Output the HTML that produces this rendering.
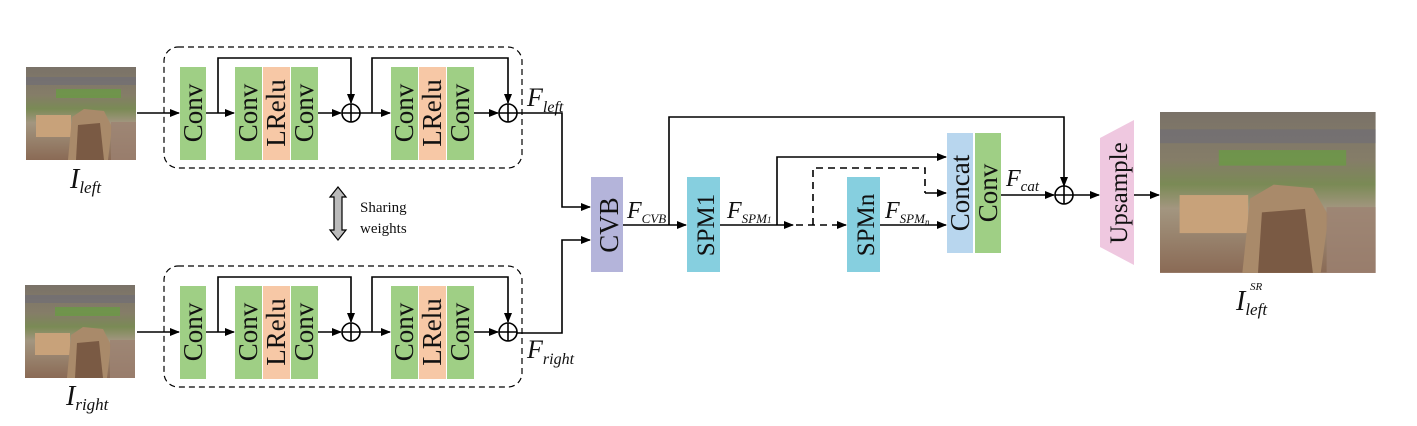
<!DOCTYPE html>
<html><head><meta charset="utf-8"><style>
html,body{margin:0;padding:0;background:#fff;}
svg{display:block;}
text{font-family:"Liberation Serif",serif;fill:#111;}
</style></head><body>
<svg width="1417" height="426" viewBox="0 0 1417 426" xmlns="http://www.w3.org/2000/svg">
<defs>
<marker id="ah" markerWidth="10" markerHeight="8" refX="9" refY="4" orient="auto" markerUnits="userSpaceOnUse">
<path d="M0,0 L10,4 L0,8 z" fill="#000"/></marker>
<linearGradient id="sky" x1="0" y1="0" x2="0" y2="1">
<stop offset="0" stop-color="#7a7268"/><stop offset="0.3" stop-color="#857d68"/><stop offset="0.45" stop-color="#7a8a55"/><stop offset="0.6" stop-color="#a39680"/><stop offset="1" stop-color="#8a6a55"/></linearGradient>
<g id="city">
<rect x="0" y="0" width="110" height="93" fill="url(#sky)"/>
<rect x="0" y="10" width="110" height="8" fill="#6a6a7a" opacity="0.5"/>
<rect x="30" y="22" width="65" height="9" fill="#6a9a45" opacity="0.8"/>
<rect x="10" y="48" width="35" height="22" fill="#c8a27a"/>
<polygon points="42,93 46,50 58,42 78,44 86,60 82,93" fill="#a98a6a"/>
<polygon points="50,93 52,58 74,56 78,93" fill="#7a5a44"/>
<rect x="85" y="55" width="25" height="38" fill="#9c8272" opacity="0.8"/>
</g>
</defs>

<use href="#city" x="26" y="67"/>
<use href="#city" x="25" y="285"/>
<g transform="translate(1160,112) scale(1.96,1.73)"><use href="#city"/></g>

<text x="70" y="188" font-size="28" font-style="italic">I<tspan font-size="17" dy="5">left</tspan></text>
<text x="66" y="405" font-size="28" font-style="italic">I<tspan font-size="17" dy="5">right</tspan></text>
<text x="1236" y="310" font-size="28" font-style="italic">I<tspan font-size="17" dy="5">left</tspan><tspan font-size="11" x="1250" y="290">SR</tspan></text>

<g id="blk">
<rect x="164" y="47" width="358" height="121" rx="14" fill="none" stroke="#000" stroke-dasharray="6,4" stroke-width="1.2"/>
<rect x="180" y="67" width="26" height="93" fill="#9fcf85"/>
<rect x="235" y="67" width="27" height="93" fill="#9fcf85"/>
<rect x="263" y="67" width="27" height="93" fill="#f7c8a6"/>
<rect x="291" y="67" width="27" height="93" fill="#9fcf85"/>
<rect x="391" y="67" width="27" height="93" fill="#9fcf85"/>
<rect x="419" y="67" width="27" height="93" fill="#f7c8a6"/>
<rect x="447" y="67" width="27" height="93" fill="#9fcf85"/>
<g font-size="27">
<text transform="translate(202,113) rotate(-90)" text-anchor="middle">Conv</text>
<text transform="translate(257,113) rotate(-90)" text-anchor="middle">Conv</text>
<text transform="translate(285,113) rotate(-90)" text-anchor="middle">LRelu</text>
<text transform="translate(313,113) rotate(-90)" text-anchor="middle">Conv</text>
<text transform="translate(413,113) rotate(-90)" text-anchor="middle">Conv</text>
<text transform="translate(441,113) rotate(-90)" text-anchor="middle">LRelu</text>
<text transform="translate(469,113) rotate(-90)" text-anchor="middle">Conv</text>
</g>
<g stroke="#000" stroke-width="1.6" fill="none">
<line x1="137" y1="113" x2="179" y2="113" marker-end="url(#ah)"/>
<line x1="206" y1="113" x2="234" y2="113" marker-end="url(#ah)"/>
<polyline points="218,113 218,58 351,58 351,103" marker-end="url(#ah)"/>
<line x1="318" y1="113" x2="341" y2="113" marker-end="url(#ah)"/>
<circle cx="351" cy="113" r="9" fill="#fff"/>
<line x1="342" y1="113" x2="360" y2="113"/><line x1="351" y1="104" x2="351" y2="122"/>
<line x1="360" y1="113" x2="390" y2="113" marker-end="url(#ah)"/>
<polyline points="372,113 372,58 508,58 508,103" marker-end="url(#ah)"/>
<line x1="474" y1="113" x2="498" y2="113" marker-end="url(#ah)"/>
<circle cx="508" cy="113" r="9" fill="#fff"/>
<line x1="499" y1="113" x2="517" y2="113"/><line x1="508" y1="104" x2="508" y2="122"/>
</g>
</g>
<use href="#blk" y="219"/>

<text x="527" y="106" font-size="26" font-style="italic">F<tspan font-size="16" dy="6">left</tspan></text>
<text x="527" y="358" font-size="26" font-style="italic">F<tspan font-size="16" dy="6">right</tspan></text>

<polygon points="338,187 346,197 342,197 342,230 346,230 338,240 330,230 334,230 334,197 330,197" fill="#bbb" stroke="#000" stroke-width="1.2"/>
<text x="360" y="212" font-size="15">Sharing</text>
<text x="360" y="233" font-size="15">weights</text>

<rect x="591" y="177" width="32" height="95" fill="#b4b4da"/>
<text transform="translate(618,225) rotate(-90)" text-anchor="middle" font-size="27">CVB</text>
<rect x="687" y="177" width="33" height="95" fill="#86cfdf"/>
<text transform="translate(714,225) rotate(-90)" text-anchor="middle" font-size="25">SPM1</text>
<rect x="847" y="177" width="33" height="95" fill="#86cfdf"/>
<text transform="translate(874,225) rotate(-90)" text-anchor="middle" font-size="25">SPMn</text>
<rect x="947" y="133" width="26" height="120" fill="#b8d6ee"/>
<text transform="translate(969,193) rotate(-90)" text-anchor="middle" font-size="27">Concat</text>
<rect x="975" y="133" width="26" height="120" fill="#9fcf85"/>
<text transform="translate(997,193) rotate(-90)" text-anchor="middle" font-size="27">Conv</text>
<polygon points="1100,138 1134,120 1134,265 1100,247" fill="#efc8e0"/>
<text transform="translate(1127,193) rotate(-90)" text-anchor="middle" font-size="25">Upsample</text>

<text x="627" y="218" font-size="24" font-style="italic">F<tspan font-size="13" dy="5">CVB</tspan></text>
<text x="727" y="218" font-size="24" font-style="italic">F<tspan font-size="13" dy="5">SPM</tspan><tspan font-size="9" dy="0">1</tspan></text>
<text x="885" y="218" font-size="24" font-style="italic">F<tspan font-size="13" dy="5">SPM</tspan><tspan font-size="9" dy="2">n</tspan></text>
<text x="1006" y="186" font-size="24" font-style="italic">F<tspan font-size="15" dy="5">cat</tspan></text>

<g stroke="#000" stroke-width="1.6" fill="none">
<polyline points="517,113 562,113 562,207 590,207" marker-end="url(#ah)"/>
<polyline points="517,333 562,333 562,240 590,240" marker-end="url(#ah)"/>
<line x1="623" y1="225" x2="686" y2="225" marker-end="url(#ah)"/>
<polyline points="669,225 669,117 1064,117 1064,186" marker-end="url(#ah)"/>
<line x1="720" y1="225" x2="793" y2="225" marker-end="url(#ah)"/>
<polyline points="777,225 777,157 946,157" marker-end="url(#ah)"/>
<line x1="796" y1="225" x2="846" y2="225" stroke-dasharray="7,5" marker-end="url(#ah)"/>
<polyline points="813,225 813,168 925,168 925,193" stroke-dasharray="7,5"/>
<line x1="925" y1="193" x2="946" y2="193" marker-end="url(#ah)"/>
<line x1="880" y1="225" x2="946" y2="225" marker-end="url(#ah)"/>
<line x1="1001" y1="195" x2="1054" y2="195" marker-end="url(#ah)"/>
<circle cx="1064" cy="195" r="9" fill="#fff"/>
<line x1="1055" y1="195" x2="1073" y2="195"/><line x1="1064" y1="186" x2="1064" y2="204"/>
<line x1="1073" y1="195" x2="1099" y2="195" marker-end="url(#ah)"/>
<line x1="1134" y1="195" x2="1159" y2="195" marker-end="url(#ah)"/>
</g>
</svg>
</body></html>
